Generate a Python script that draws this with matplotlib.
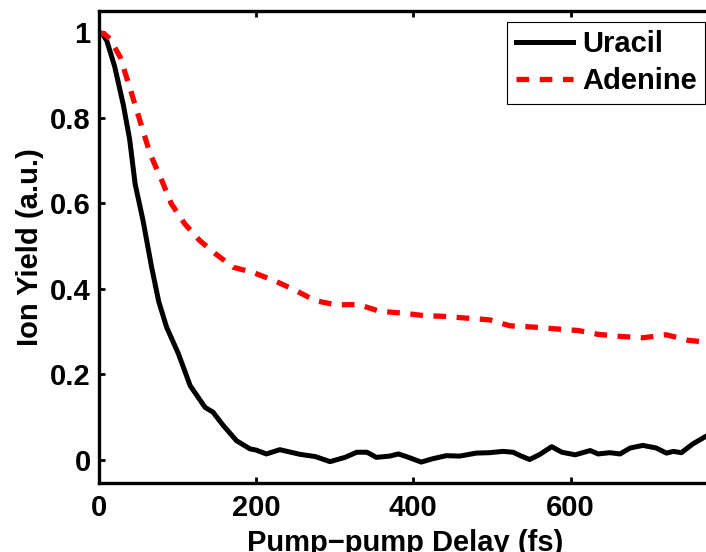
import matplotlib
matplotlib.use("Agg")
import matplotlib.pyplot as plt

# --- data ---
uracil_t = [0, 5, 10, 20, 31, 39, 46, 56, 67, 76, 86, 101, 116, 135, 145, 158,
            175, 192, 200, 213, 230, 256, 275, 294, 313, 328, 341, 353, 370,
            381, 394, 410, 425, 442, 459, 480, 497, 514, 527, 536, 548, 561,
            576, 589, 606, 625, 635, 650, 663, 676, 692, 709, 722, 731, 741,
            756, 772, 785]
uracil_y = [1.0, 0.995, 0.98, 0.92, 0.83, 0.75, 0.645, 0.56, 0.45, 0.37, 0.31,
            0.248, 0.173, 0.122, 0.111, 0.08, 0.044, 0.025, 0.022, 0.013,
            0.023, 0.012, 0.007, -0.005, 0.005, 0.017, 0.017, 0.005, 0.008,
            0.013, 0.005, -0.006, 0.002, 0.009, 0.008, 0.015, 0.016, 0.019,
            0.017, 0.009, 0.0, 0.012, 0.03, 0.017, 0.011, 0.021, 0.013, 0.016,
            0.013, 0.027, 0.033, 0.027, 0.015, 0.019, 0.016, 0.037, 0.054,
            0.065]

adenine_t = [0, 7, 14, 27, 39, 52, 65, 80, 92, 109, 128, 148, 171, 196, 224,
             249, 275, 302, 330, 357, 385, 413, 440, 468, 497, 523, 553, 580,
             610, 635, 665, 692, 722, 750, 772, 785]
adenine_y = [1.0, 0.996, 0.985, 0.942, 0.872, 0.794, 0.716, 0.653, 0.599,
             0.552, 0.513, 0.482, 0.45, 0.438, 0.418, 0.397, 0.372, 0.362,
             0.363, 0.347, 0.343, 0.337, 0.335, 0.331, 0.327, 0.313, 0.31,
             0.306, 0.302, 0.293, 0.288, 0.285, 0.292, 0.279, 0.275, 0.273]

x_ticks = [0, 200, 400, 600]
y_ticks = [0, 0.2, 0.4, 0.6, 0.8, 1]
y_ticklabels = ["0", "0.2", "0.4", "0.6", "0.8", "1"]

FS = 21

plt.rcParams['font.family'] = ['Liberation Sans', 'DejaVu Sans']
plt.rcParams['font.weight'] = 'bold'

fig = plt.figure(figsize=(7.06, 5.52), dpi=100)
# axes run a little past the right edge, like the cropped original
ax = fig.add_axes([0.1402, 0.125, 0.8683, 0.855])

ax.plot(uracil_t, uracil_y, color='black', lw=3.6, label='Uracil')
ax.plot(adenine_t, adenine_y, color='red', lw=3.8, linestyle=(0, (2.4, 2.0)),
        dash_capstyle='butt', label='Adenine')

ax.set_xlim(0, 780)
ax.set_ylim(-0.055, 1.05)
ax.set_xticks(x_ticks)
ax.set_yticks(y_ticks)
ax.set_yticklabels(y_ticklabels)

for s in ax.spines.values():
    s.set_linewidth(2.4)
ax.tick_params(direction='in', length=4, width=2, labelsize=FS,
               top=True, right=True, pad=6)
ax.tick_params(axis='x', pad=8)
for lab in ax.get_xticklabels() + ax.get_yticklabels():
    lab.set_fontweight('bold')

ax.set_xlabel("Pump\u2212pump Delay (fs)", fontsize=FS, fontweight='bold',
              labelpad=5)
ax.set_ylabel("Ion Yield (a.u.)", fontsize=FS, fontweight='bold', labelpad=4)

leg = ax.legend(loc='upper right', bbox_to_anchor=(0.999, 0.961),
                bbox_transform=fig.transFigure,
                prop={'weight': 'bold', 'size': FS}, handlelength=1.95,
                handletextpad=0.3, labelspacing=0.3, borderpad=0.3,
                borderaxespad=0, fancybox=False, framealpha=1)
leg.get_frame().set_edgecolor('black')
leg.get_frame().set_linewidth(0.8)

fig.savefig("out.png", dpi=100)
